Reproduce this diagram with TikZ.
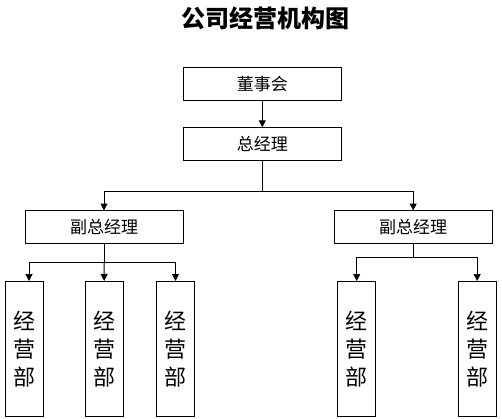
\documentclass[tikz,border=0pt]{standalone}
\usepackage{fontspec}
\newfontfamily\cjk{Noto Sans CJK SC}
\usetikzlibrary{arrows.meta}
\begin{document}
\begin{tikzpicture}[x=1pt,y=-1pt,
  box/.style={draw,line width=1pt,inner sep=0pt,outer sep=0pt,minimum width=158pt,minimum height=33pt,font=\cjk\fontsize{17}{20}\selectfont},
  dept/.style={draw,line width=1pt,inner sep=0pt,outer sep=0pt,minimum width=38pt,minimum height=135.5pt,align=center,font=\cjk\fontsize{22}{28}\selectfont},
  conn/.style={line width=1pt},
  arr/.style={line width=1pt,-{Triangle[length=7pt,width=7pt]}}]
\useasboundingbox (0,0) rectangle (502,418);
\node[font=\cjk\bfseries\fontsize{24}{28}\selectfont] (title) at (265,18.5) {公司经营机构图};
\node[box] (board) at (262.3,83.7) {董事会};
\node[box] (gm) at (262.3,143.8) {总经理};
\node[box] (vl) at (104,227) {副总经理};
\node[box] (vr) at (413.2,227) {副总经理};
\node[dept] (d1) at (24.8,348.75) {经\\营\\部};
\node[dept] (d2) at (104.2,348.75) {经\\营\\部};
\node[dept] (d3) at (175.5,348.75) {经\\营\\部};
\node[dept] (d4) at (356.7,348.75) {经\\营\\部};
\node[dept] (d5) at (477.2,348.75) {经\\营\\部};
\draw[arr] (board) -- (gm);
\draw[conn] (gm.south) -- (262.3,191.7) coordinate (j1);
\draw[arr] (j1) -| (vl.north);
\draw[arr] (j1) -| (vr.north);
\draw[conn] (vl.south) -- (104,262.7) coordinate (j2);
\draw[arr] (j2) -| ([xshift=4.2pt]d1.north);
\draw[arr] (j2) -- (d2.north);
\draw[arr] (j2) -| (d3.north);
\draw[conn] (vr.south) -- (413.2,257.3) coordinate (j3);
\draw[arr] (j3) -| (d4.north);
\draw[arr] (j3) -| (d5.north);
\end{tikzpicture}
\end{document}
